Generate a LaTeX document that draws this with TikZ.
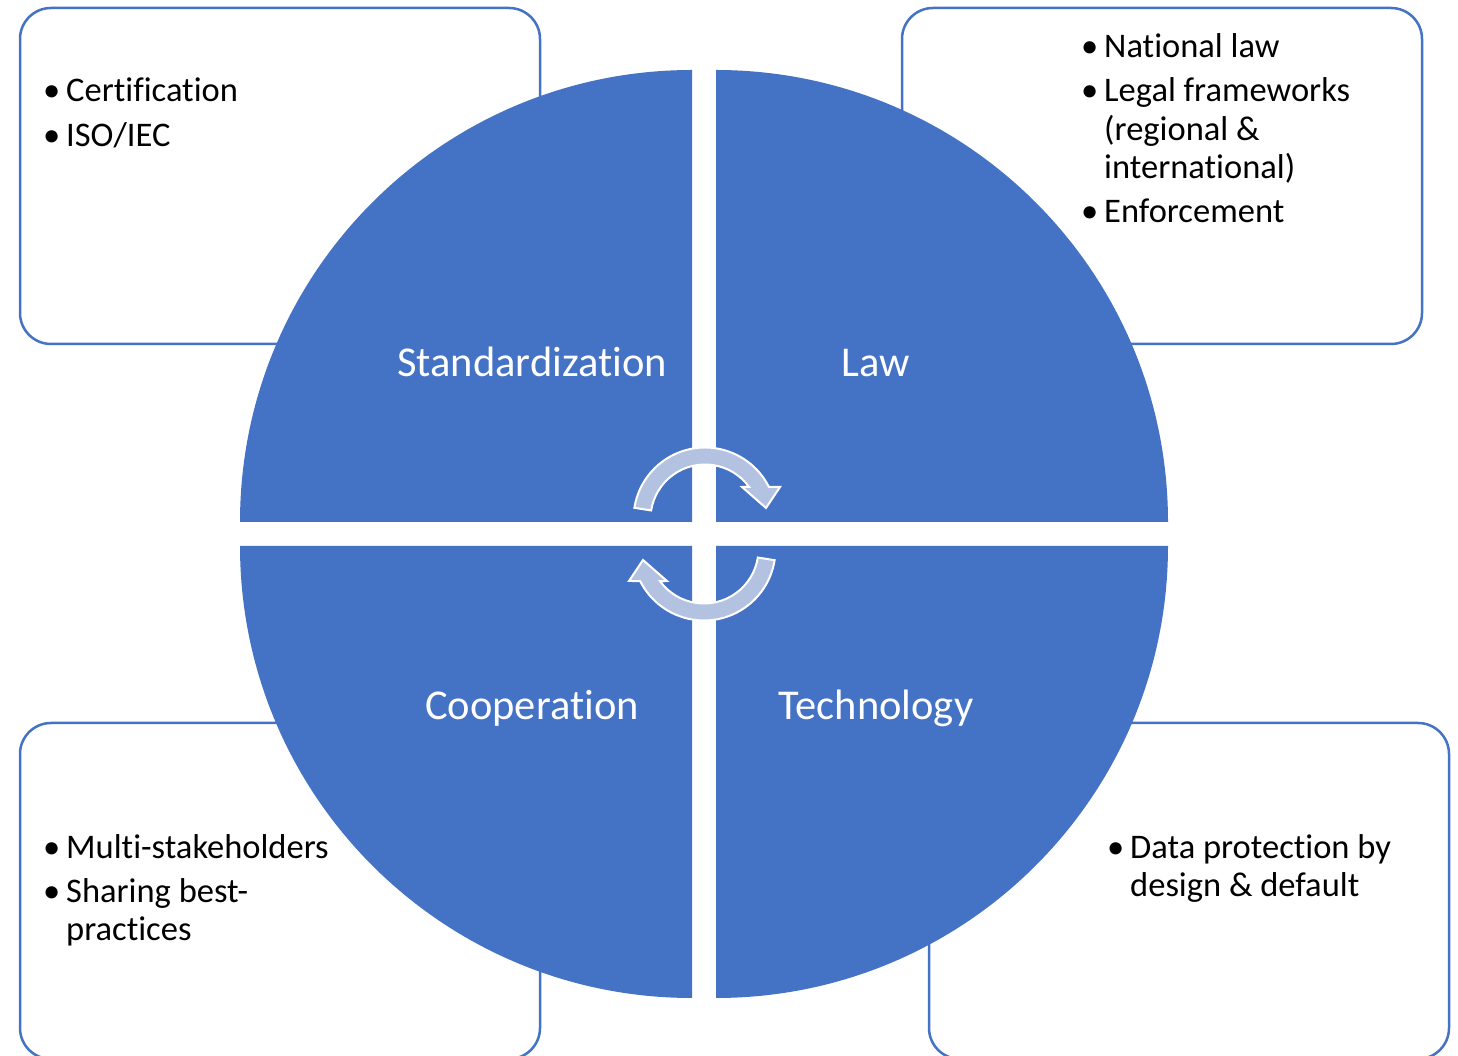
\documentclass[tikz,border=0pt]{standalone}
\usepackage{fontspec}
\setmainfont{Carlito}[Ligatures={NoCommon}]
\usetikzlibrary{calc}
\definecolor{accent}{RGB}{68,114,196}
\definecolor{arrowfill}{RGB}{180,194,226}
\begin{document}
\begin{tikzpicture}[x=1pt,y=1pt,
  infobox/.style={draw=accent, line width=2.5pt, fill=white, rounded corners=31pt},
  quad/.style={fill=accent},
  cyc/.style={fill=arrowfill, draw=white, line width=2pt, line join=miter},
  item/.style={anchor=base west, inner sep=0pt, font=\fontsize{34.5}{38}\selectfont, text=black},
  qlabel/.style={anchor=base, inner sep=0pt, font=\fontsize{42.5}{48}\selectfont, text=white}]
\useasboundingbox (0,0) rectangle (1458,1055);

% info boxes (behind the circle)
\draw[infobox] (20,711) rectangle (540,1047);
\draw[infobox] (902,711) rectangle (1422,1047);
\draw[infobox] (20,-4) rectangle (540,332);
\draw[infobox] (929,-4) rectangle (1449,332);

% quadrants
\fill[quad] (692,533) -- (240,533) arc (180:90:452) -- cycle;
\fill[quad] (716,533) -- (716,985) arc (90:0:452) -- cycle;
\fill[quad] (692,509) -- (240,509) arc (180:270:452) -- cycle;
\fill[quad] (716,509) -- (1168,509) arc (0:-90:452) -- cycle;

% quadrant labels
\node[qlabel] (std) at (532,678) {Standardization};
\node[qlabel] (law) at (876,678) {Law};
\node[qlabel] (coop) at (532,335) {Cooperation};
\node[qlabel] (tech) at (876,335) {Technology};

% circular arrows
\coordinate (c1) at (705,536);
\coordinate (c2) at (704,506);
\draw[cyc] ($(c1)+(171:71.5)$) arc (171:26.6:71.5) -- (780,568) -- (766,547) -- (742,568)
  -- ($(c1)+(36.0:54.5)$) arc (36.0:171:54.5) -- cycle;
\draw[cyc] ($(c2)+(351:71.5)$) arc (351:206.6:71.5) -- (629,474) -- (643,495) -- (667,474)
  -- ($(c2)+(216.0:54.5)$) arc (216.0:351:54.5) -- cycle;

% top-left box text
\node[item] (tlb1) at (43,953) {•};
\node[item] (tlt1) at (66,953) {Certification};
\node[item] (tlb2) at (43,908) {•};
\node[item] (tlt2) at (66,908) {ISO/IEC};

% top-right box text
\node[item] (trb1) at (1081,997) {•};
\node[item] (trt1) at (1104,997) {National law};
\node[item] (trb2) at (1081,953) {•};
\node[item] (trt2) at (1104,953) {Legal frameworks};
\node[item] (trt3) at (1104,914) {(regional \&};
\node[item] (trt4) at (1104,876) {international)};
\node[item] (trb3) at (1081,832) {•};
\node[item] (trt5) at (1104,832) {Enforcement};

% bottom-left box text
\node[item] (blb1) at (43,197) {•};
\node[item] (blt1) at (66,197) {Multi-stakeholders};
\node[item] (blb2) at (43,153) {•};
\node[item] (blt2) at (66,153) {Sharing best-};
\node[item] (blt3) at (66,115) {practices};

% bottom-right box text
\node[item] (brb1) at (1107,197) {•};
\node[item] (brt1) at (1130,197) {Data protection by};
\node[item] (brt2) at (1130,159) {design \& default};
\end{tikzpicture}
\end{document}
